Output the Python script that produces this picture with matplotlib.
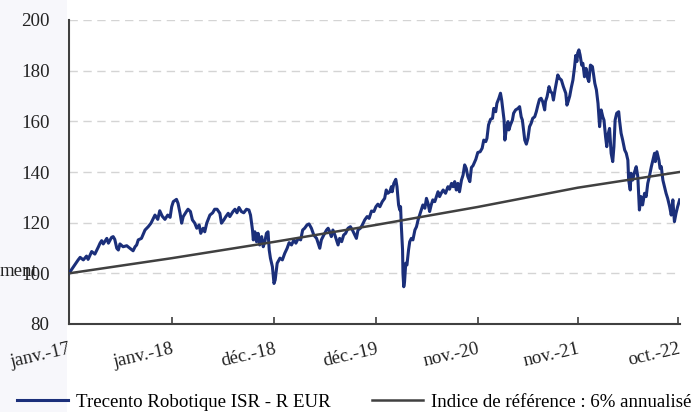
import matplotlib
matplotlib.use("Agg")
import matplotlib.pyplot as plt
from matplotlib.patches import Rectangle

# ---- data (trading-day index, value) ----
fund_idx = [0, 3, 11, 23, 28, 36, 44, 48, 57, 65, 74, 78, 82, 86, 95, 99, 107, 111, 115, 120,
            124, 128, 136, 145, 153, 161, 166, 170, 174, 182, 191, 199, 206, 212, 216, 223, 228,
            234, 241, 248, 254, 258, 262, 270, 274, 279, 283, 287, 295, 299, 305, 310, 316, 321,
            327, 331, 337, 341, 346, 354, 361, 366, 372, 379, 383, 389, 394, 400, 404, 412, 417,
            422, 427, 433, 439, 446, 452, 456, 461, 463, 467, 471, 475, 479, 484, 488, 492, 496,
            500, 503, 506, 511, 515, 518, 521, 523, 530, 536, 542, 548, 553, 559, 565, 570, 576,
            582, 587, 592, 598, 603, 609, 615, 622, 626, 630, 634, 640, 647, 651, 655, 659, 663,
            668, 672, 676, 680, 685, 690, 695, 701, 707, 712, 718, 722, 726, 732, 737, 743, 749,
            754, 760, 766, 771, 776, 781, 787, 793, 797, 801, 806, 810, 812, 816, 821, 824, 828,
            831, 833, 835, 838, 839, 841, 843, 846, 849, 853, 856, 860, 864, 869, 873, 877, 881,
            885, 889, 894, 898, 902, 906, 910, 914, 919, 923, 927, 931, 935, 940, 946, 952, 956,
            961, 965, 969, 973, 977, 981, 986, 990, 994, 998, 1002, 1007, 1011, 1015, 1022, 1027,
            1033, 1038, 1042, 1047, 1050, 1054, 1059, 1064, 1067, 1072, 1075, 1080, 1084, 1087,
            1090, 1093, 1095, 1099, 1103, 1105, 1109, 1114, 1117, 1122, 1128, 1132, 1136, 1139,
            1142, 1145, 1149, 1153, 1157, 1161, 1165, 1170, 1174, 1178, 1182, 1186, 1190, 1195,
            1197, 1201, 1206, 1210, 1214, 1217, 1221, 1224, 1228, 1232, 1237, 1242, 1248, 1251,
            1254, 1258, 1262, 1266, 1270, 1273, 1276, 1278, 1281, 1284, 1288, 1291, 1295, 1299,
            1303, 1306, 1310, 1315, 1318, 1321, 1325, 1329, 1333, 1337, 1341, 1344, 1348, 1351,
            1355, 1358, 1362, 1366, 1369, 1372, 1376, 1381, 1383, 1387, 1391, 1396, 1400, 1404,
            1406, 1410, 1412, 1416, 1421, 1425, 1429, 1433, 1437, 1441, 1446, 1450, 1454, 1458,
            1463, 1467, 1471, 1473, 1477, 1482, 1485, 1488, 1492, 1496, 1500, 1504, 1509, 1513,
            1517, 1521, 1525, 1529, 1534]
fund_val = [100.0, 100.7, 102.6, 105.3, 106.3, 105.3, 106.8, 105.5, 108.6, 107.6, 110.5, 111.9,
            112.9, 111.6, 113.8, 111.9, 114.2, 114.5, 113.4, 109.9, 109.2, 111.6, 110.5, 110.9,
            109.9, 108.9, 110.5, 111.2, 113.2, 113.8, 117.1, 118.4, 119.8, 121.7, 123.0, 121.3,
            124.7, 122.6, 121.3, 123.0, 122.1, 126.3, 128.3, 129.2, 127.6, 123.7, 119.8, 122.4,
            124.4, 125.3, 124.4, 121.1, 119.8, 117.8, 119.1, 115.8, 117.8, 116.4, 119.8, 123.0,
            123.9, 125.3, 125.3, 123.7, 119.8, 121.1, 122.4, 123.7, 122.4, 124.4, 125.3, 123.9,
            126.0, 124.4, 123.9, 125.3, 125.0, 123.0, 117.1, 113.2, 116.4, 112.5, 115.8, 111.2,
            114.5, 110.5, 112.5, 115.8, 116.4, 109.2, 106.0, 102.6, 96.0, 97.4, 101.3, 104.0,
            106.0, 105.3, 107.9, 109.9, 112.1, 111.2, 113.2, 111.9, 113.8, 113.2, 117.1, 117.8,
            119.1, 119.5, 117.8, 115.1, 113.8, 111.9, 109.9, 113.2, 115.1, 117.1, 117.8, 116.4,
            114.5, 117.1, 115.1, 113.2, 111.2, 113.8, 112.5, 115.1, 115.8, 117.8, 118.4, 117.1,
            115.1, 113.8, 117.1, 117.8, 119.1, 121.1, 122.4, 121.7, 124.6, 124.4, 126.3, 127.3,
            126.3, 128.3, 129.6, 132.9, 131.6, 132.2, 134.2, 132.2, 135.5, 137.1, 134.2, 127.0,
            125.0, 126.3, 118.4, 109.2, 100.0, 94.7, 96.7, 104.0, 103.3, 109.2, 112.5, 113.8,
            113.2, 117.1, 118.4, 121.1, 123.0, 125.0, 127.0, 125.7, 129.6, 127.6, 124.4, 127.0,
            129.0, 128.3, 130.3, 132.2, 130.3, 131.6, 132.9, 131.6, 134.2, 133.2, 135.5, 134.2,
            136.2, 132.9, 135.5, 132.2, 136.8, 138.8, 142.8, 141.4, 138.2, 136.2, 141.8, 142.5,
            145.0, 147.7, 148.0, 149.4, 152.6, 152.0, 153.3, 158.6, 160.8, 161.2, 165.1, 163.8,
            167.1, 169.1, 171.1, 168.4, 164.5, 160.5, 152.6, 157.2, 159.9, 156.6, 158.6, 160.5,
            163.2, 164.5, 165.1, 165.8, 161.8, 160.5, 156.6, 152.6, 151.0, 153.3, 157.9, 159.2,
            161.2, 161.8, 163.8, 166.4, 168.7, 169.1, 167.8, 164.5, 167.8, 169.7, 173.7, 171.7,
            171.1, 168.4, 172.4, 175.0, 178.3, 177.0, 176.3, 173.7, 171.1, 166.4, 167.8, 170.0,
            173.4, 176.3, 181.3, 186.0, 183.6, 187.0, 188.2, 186.2, 182.2, 182.9, 177.6, 180.9,
            177.0, 175.7, 182.2, 181.6, 178.3, 175.0, 172.4, 167.1, 157.9, 164.5, 161.8, 160.5,
            153.9, 150.0, 155.3, 157.2, 147.4, 144.1, 150.0, 160.5, 163.2, 163.8, 160.5, 155.3,
            152.6, 148.7, 147.4, 144.7, 136.8, 132.9, 139.5, 136.8, 140.1, 142.1, 138.2, 125.0,
            130.3, 127.0, 131.6, 130.3, 135.5, 138.2, 142.1, 144.7, 147.4, 144.1, 148.0, 144.7,
            141.4, 142.1, 136.8, 134.2, 131.6, 129.6, 126.3, 123.0, 129.0, 120.4, 123.7, 126.3,
            129.0]

bench_idx = [0, 259, 515, 771, 1027, 1278, 1534]
bench_val = [100.0, 106.0, 112.4, 119.1, 126.2, 133.8, 140.0]

tick_pos = [0, 259, 515, 771, 1027, 1278, 1529]
tick_labels = ["janv.-17", "janv.-18", "déc.-18", "déc.-19", "nov.-20", "nov.-21", "oct.-22"]
y_ticks = [80, 100, 120, 140, 160, 180, 200]

series_names = ["Trecento Robotique ISR - R EUR", "Indice de référence : 6% annualisé"]

# ---- figure ----
W, H = 697, 412
FS = 13.6
fig = plt.figure(figsize=(W / 100, H / 100), dpi=100, facecolor="white")
plt.rcParams["font.family"] = ["Liberation Serif", "DejaVu Serif"]

fig.add_artist(Rectangle((0, 0), 67 / W, 1, transform=fig.transFigure,
                         facecolor="#f7f7fb", edgecolor="none", zorder=-10))

ax = fig.add_axes([69 / W, 1 - 324 / H, (680 - 69) / W, (324 - 20) / H])
ax.set_facecolor("none")

blue = "#1b2f7a"
grey = "#404040"
l1, = ax.plot(fund_idx, fund_val, color=blue, lw=2.2, solid_joinstyle="round", zorder=3)
l2, = ax.plot(bench_idx, bench_val, color=grey, lw=1.8, zorder=4)

ax.set_xlim(0, 1535)
ax.set_ylim(80, 200)
ax.set_yticks(y_ticks)
ax.set_xticks(tick_pos)
ax.set_xticklabels(tick_labels, rotation=13, ha="right", rotation_mode="anchor")
ax.tick_params(axis="y", length=0, pad=14, labelsize=FS, labelcolor="#222222")
ax.tick_params(axis="x", direction="in", length=5, width=1.2, color=grey,
               pad=12, labelsize=FS, labelcolor="#222222")

for v in y_ticks[1:]:
    ax.axhline(v, color="#d4d4d4", lw=1, ls=(0, (6, 4)), zorder=1)

for s in ["top", "right"]:
    ax.spines[s].set_visible(False)
for s in ["left", "bottom"]:
    ax.spines[s].set_color(grey)
    ax.spines[s].set_linewidth(1.5)

fig.text(0, 1 - 272 / H, "ment", ha="left", va="center", fontsize=FS, color="#222222")

fig.legend([l1, l2], series_names, loc="center left",
           bbox_to_anchor=(17 / W, 1 - 402 / H), ncol=2, frameon=False,
           fontsize=FS, handlelength=2.7, handletextpad=0.42, columnspacing=2.2,
           borderpad=0, borderaxespad=0)

fig.savefig("out.png", dpi=100, facecolor="white")
